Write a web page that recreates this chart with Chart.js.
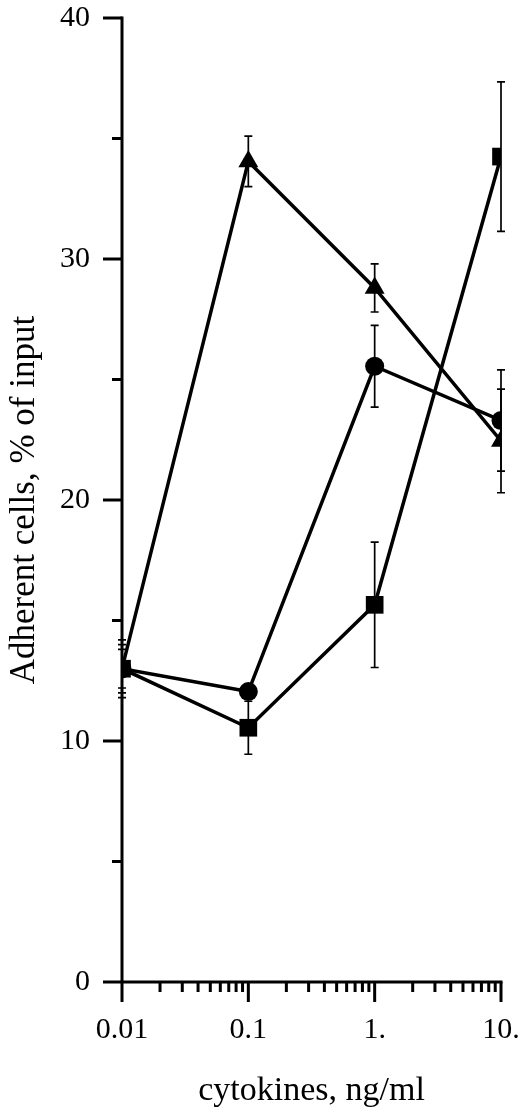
<!DOCTYPE html>
<html>
<head>
<meta charset="utf-8">
<script src="https://cdn.jsdelivr.net/npm/chart.js@4.4.0/dist/chart.umd.min.js"></script>
<style>
  html, body { margin: 0; padding: 0; background: #fff; }
  #wrap { width: 520px; height: 1113px; }
</style>
</head>
<body>
<div id="wrap"><canvas id="c" width="520" height="1113"></canvas></div>
<script>
// ---- data ----
const doses = [0.01, 0.1, 1, 10];
const squareVals = [13.0, 10.55, 15.65, 34.25];
const squareErr  = [1.0, 1.1, 2.6, 3.1];
const circleVals = [13.0, 12.05, 25.55, 23.3];
const circleErr  = [0.8, 0.3, 1.7, 2.1];
const triangleVals = [13.0, 34.05, 28.8, 22.45];
const triangleErr  = [1.2, 1.05, 1.0, 2.15];

const xTickValues = [0.01, 0.1, 1, 10];
const xTickLabels = ['0.01', '0.1', '1.', '10.'];
const xMinorTicks = [0.02,0.03,0.04,0.05,0.06,0.07,0.08,0.09,
                     0.2,0.3,0.4,0.5,0.6,0.7,0.8,0.9,
                     2,3,4,5,6,7,8,9];
const yTickValues = [0, 10, 20, 30, 40];
const yMinorTicks = [5, 15, 25, 35];

const xTitle = 'cytokines, ng/ml';
const yTitle = 'Adherent cells, % of input';

const FONT = "'Liberation Serif', 'Times New Roman', serif";

function pts(vals) { return doses.map((d, i) => ({ x: d, y: vals[i] })); }

const errorBars = {
  id: 'errorBars',
  beforeDatasetsDraw(chart) {
    const ctx = chart.ctx;
    const xs = chart.scales.x, ys = chart.scales.y;
    const sets = [[squareVals, squareErr], [circleVals, circleErr], [triangleVals, triangleErr]];
    ctx.save();
    ctx.strokeStyle = '#000';
    ctx.lineWidth = 1.7;
    sets.forEach(([v, e]) => {
      doses.forEach((d, i) => {
        const px = xs.getPixelForValue(d);
        const top = ys.getPixelForValue(v[i] + e[i]);
        const bot = ys.getPixelForValue(v[i] - e[i]);
        ctx.beginPath();
        ctx.moveTo(px, top); ctx.lineTo(px, bot);
        ctx.moveTo(px - 4, top); ctx.lineTo(px + 4, top);
        ctx.moveTo(px - 4, bot); ctx.lineTo(px + 4, bot);
        ctx.stroke();
      });
    });
    ctx.restore();
  }
};

const axesPlugin = {
  id: 'axesPlugin',
  afterDraw(chart) {
    const ctx = chart.ctx;
    const xs = chart.scales.x, ys = chart.scales.y;
    const left = chart.chartArea.left, bottom = chart.chartArea.bottom;
    const top = ys.getPixelForValue(40), right = xs.getPixelForValue(10);
    ctx.save();
    ctx.strokeStyle = '#000';
    ctx.lineWidth = 3;
    ctx.lineCap = 'butt';
    ctx.beginPath();
    ctx.moveTo(left, top - 1.5); ctx.lineTo(left, bottom);
    ctx.moveTo(left, bottom); ctx.lineTo(right + 1.5, bottom);
    ctx.stroke();
    ctx.beginPath();
    yTickValues.forEach(v => { const p = ys.getPixelForValue(v); ctx.moveTo(left - 19, p); ctx.lineTo(left, p); });
    yMinorTicks.forEach(v => { const p = ys.getPixelForValue(v); ctx.moveTo(left - 10, p); ctx.lineTo(left, p); });
    xTickValues.forEach(v => { const p = xs.getPixelForValue(v); ctx.moveTo(p, bottom); ctx.lineTo(p, bottom + 20); });
    xMinorTicks.forEach(v => { const p = xs.getPixelForValue(v); ctx.moveTo(p, bottom); ctx.lineTo(p, bottom + 10); });
    ctx.stroke();
    ctx.restore();
  }
};

const common = { borderColor: '#000', backgroundColor: '#000', borderWidth: 3.5, showLine: true, pointBorderWidth: 0, fill: false };

new Chart(document.getElementById('c'), {
  type: 'scatter',
  data: {
    datasets: [
      Object.assign({ label: 'square', data: pts(squareVals), pointStyle: 'rect', pointRadius: 12.5, pointHoverRadius: 12.5 }, common),
      Object.assign({ label: 'circle', data: pts(circleVals), pointStyle: 'circle', pointRadius: 9.5, pointHoverRadius: 9.5 }, common),
      Object.assign({ label: 'triangle', data: pts(triangleVals), pointStyle: 'triangle', pointRadius: 11.5, pointHoverRadius: 11.5 }, common)
    ]
  },
  options: {
    responsive: false,
    animation: false,
    events: [],
    layout: { padding: { top: 18, right: 19, left: 0, bottom: 0 } },
    plugins: { legend: { display: false }, tooltip: { enabled: false } },
    scales: {
      x: {
        type: 'logarithmic',
        min: 0.01, max: 10,
        grid: { display: false },
        border: { display: false },
        afterFit(s) { s.height = 131; s.paddingLeft = 0; s.paddingRight = 0; },
        afterBuildTicks(s) { s.ticks = xTickValues.map(v => ({ value: v })); },
        ticks: {
          autoSkip: false, maxRotation: 0, padding: 22,
          color: '#000', font: { family: FONT, size: 30 },
          callback(v) { const i = xTickValues.findIndex(t => Math.abs(t - v) < 1e-9); return i >= 0 ? xTickLabels[i] : ''; }
        },
        title: { display: true, text: xTitle, color: '#000', font: { family: FONT, size: 34 }, padding: { top: 0, bottom: 2 } }
      },
      y: {
        min: 0, max: 40,
        grid: { display: false },
        border: { display: false },
        afterFit(s) { s.width = 122; s.paddingTop = 0; s.paddingBottom = 0; },
        afterBuildTicks(s) { s.ticks = yTickValues.map(v => ({ value: v })); },
        ticks: { padding: 24, color: '#000', font: { family: FONT, size: 30 } },
        title: { display: true, text: yTitle, color: '#000', font: { family: FONT, size: 35 }, padding: { top: 4, bottom: 0 } }
      }
    }
  },
  plugins: [errorBars, axesPlugin]
});
</script>
</body>
</html>
